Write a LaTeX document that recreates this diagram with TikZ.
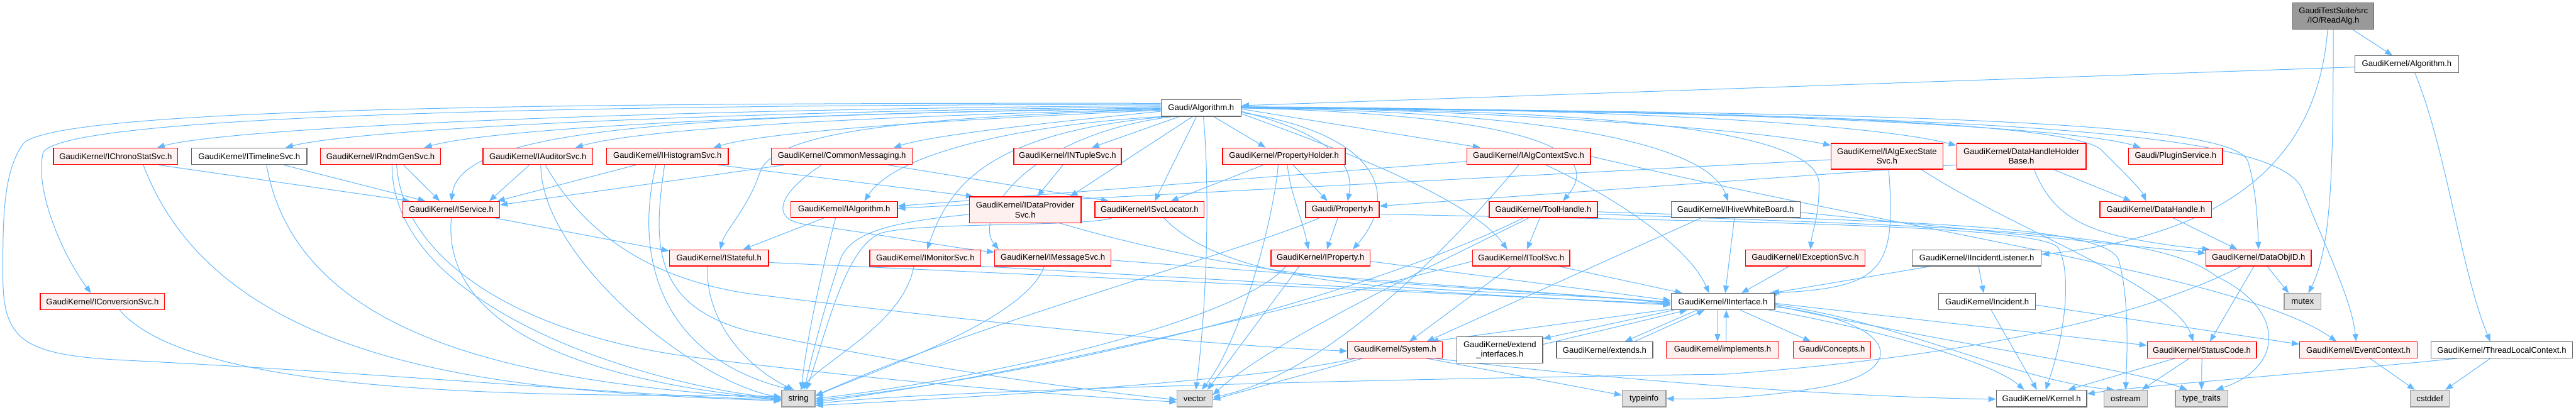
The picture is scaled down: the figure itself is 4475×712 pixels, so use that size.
\documentclass[tikz,border=0pt]{standalone}
\usepackage{fontspec}
\setmainfont{Liberation Sans}
\usetikzlibrary{arrows.meta}
\definecolor{edgec}{HTML}{63B8FF}
\definecolor{rfill}{HTML}{FFF0F0}
\definecolor{gfill}{HTML}{E0E0E0}
\definecolor{gborder}{HTML}{999999}
\definecolor{wborder}{HTML}{666666}
\definecolor{dfill}{HTML}{999999}
\pgfdeclarelayer{bg}
\pgfsetlayers{bg,main}
\newcommand\gnode[7]{\node[#1, minimum width={#5-#3}, minimum height={#6-#4}] (#2) at ({(#3+#5)/2},{-(#4+#6)/2}) {#7};}
\begin{document}
\begin{tikzpicture}[x=1pt,y=1pt,
  base/.style={rectangle, inner sep=0pt, align=center, font=\fontsize{14.3}{17}\selectfont, line width=1.4pt, text=black},
  rbox/.style={base, draw=red, fill=rfill},
  wbox/.style={base, draw=wborder, fill=white},
  gbox/.style={base, draw=gborder, fill=gfill},
  dbox/.style={base, draw=wborder, fill=dfill},
  e/.style={draw=edgec, line width=1.1pt, -{Triangle[length=13pt,width=10pt]}}
]
\useasboundingbox (0,0) rectangle (4475,-712);
% nodes
\gnode{dbox}{readalg}{3983}{5}{4124}{51}{GaudiTestSuite/src\\/IO/ReadAlg.h}
\gnode{wbox}{galg}{4091}{97}{4271}{126}{GaudiKernel/Algorithm.h}
\gnode{wbox}{alg}{2017}{173}{2156}{202}{Gaudi/Algorithm.h}
\gnode{rbox}{chrono}{93}{257}{309}{286}{GaudiKernel/IChronoStatSvc.h}
\gnode{wbox}{timeline}{333}{257}{533}{286}{GaudiKernel/ITimelineSvc.h}
\gnode{rbox}{rndm}{557}{257}{765}{286}{GaudiKernel/IRndmGenSvc.h}
\gnode{rbox}{auditor}{839}{257}{1030}{286}{GaudiKernel/IAuditorSvc.h}
\gnode{rbox}{histo}{1054}{257}{1265}{286}{GaudiKernel/IHistogramSvc.h}
\gnode{rbox}{commonmsg}{1340}{257}{1585}{286}{GaudiKernel/CommonMessaging.h}
\gnode{rbox}{ntuple}{1761}{257}{1948}{286}{GaudiKernel/INTupleSvc.h}
\gnode{rbox}{propholder}{2124}{257}{2337}{286}{GaudiKernel/PropertyHolder.h}
\gnode{rbox}{algctx}{2548}{257}{2763}{286}{GaudiKernel/IAlgContextSvc.h}
\gnode{rbox}{execstate}{3181}{249}{3375}{294}{GaudiKernel/IAlgExecState\\Svc.h}
\gnode{rbox}{dhhb}{3399}{249}{3624}{294}{GaudiKernel/DataHandleHolder\\Base.h}
\gnode{rbox}{plugin}{3698}{257}{3861}{286}{Gaudi/PluginService.h}
\gnode{rbox}{iservice}{700}{350}{868}{378}{GaudiKernel/IService.h}
\gnode{rbox}{ialgorithm}{1374}{350}{1559}{378}{GaudiKernel/IAlgorithm.h}
\gnode{rbox}{idps}{1684}{342}{1878}{387}{GaudiKernel/IDataProvider\\Svc.h}
\gnode{rbox}{isvcloc}{1902}{350}{2092}{378}{GaudiKernel/ISvcLocator.h}
\gnode{rbox}{property}{2268}{350}{2396}{378}{Gaudi/Property.h}
\gnode{rbox}{toolhandle}{2587}{350}{2775}{378}{GaudiKernel/ToolHandle.h}
\gnode{wbox}{hive}{2903}{350}{3127}{378}{GaudiKernel/IHiveWhiteBoard.h}
\gnode{rbox}{datahandle}{3648}{350}{3842}{378}{GaudiKernel/DataHandle.h}
\gnode{rbox}{istateful}{1163}{434}{1335}{462}{GaudiKernel/IStateful.h}
\gnode{rbox}{imonitor}{1511}{434}{1704}{462}{GaudiKernel/IMonitorSvc.h}
\gnode{rbox}{imsgsvc}{1728}{434}{1930}{462}{GaudiKernel/IMessageSvc.h}
\gnode{rbox}{iproperty}{2208}{434}{2380}{462}{GaudiKernel/IProperty.h}
\gnode{rbox}{itoolsvc}{2558}{434}{2727}{462}{GaudiKernel/IToolSvc.h}
\gnode{rbox}{iexception}{3032}{434}{3240}{462}{GaudiKernel/IExceptionSvc.h}
\gnode{wbox}{iincl}{3322}{434}{3546}{462}{GaudiKernel/IIncidentListener.h}
\gnode{rbox}{dataobjid}{3832}{434}{4015}{462}{GaudiKernel/DataObjID.h}
\gnode{rbox}{iconv}{70}{510}{286}{538}{GaudiKernel/IConversionSvc.h}
\gnode{wbox}{iinterface}{2903}{510}{3083}{538}{GaudiKernel/IInterface.h}
\gnode{wbox}{incident}{3368}{510}{3536}{538}{GaudiKernel/Incident.h}
\gnode{gbox}{mutex}{3968}{510}{4032}{538}{mutex}
\gnode{rbox}{system}{2341}{594}{2506}{622}{GaudiKernel/System.h}
\gnode{wbox}{extint}{2531}{585}{2680}{631}{GaudiKernel/extend\\\_interfaces.h}
\gnode{wbox}{extends}{2704}{594}{2871}{622}{GaudiKernel/extends.h}
\gnode{rbox}{implements}{2895}{594}{3090}{622}{GaudiKernel/implements.h}
\gnode{rbox}{concepts}{3115}{594}{3250}{622}{Gaudi/Concepts.h}
\gnode{rbox}{statuscode}{3730}{594}{3920}{622}{GaudiKernel/StatusCode.h}
\gnode{rbox}{eventctx}{3995}{594}{4199}{622}{GaudiKernel/EventContext.h}
\gnode{wbox}{tlc}{4223}{594}{4469}{622}{GaudiKernel/ThreadLocalContext.h}
\gnode{gbox}{string}{1358}{678}{1416}{707}{string}
\gnode{gbox}{vector}{2045}{678}{2106}{707}{vector}
\gnode{gbox}{typeinfo}{2818}{678}{2894}{707}{typeinfo}
\gnode{wbox}{kernel}{3468}{678}{3625}{707}{GaudiKernel/Kernel.h}
\gnode{gbox}{ostream}{3655}{678}{3730}{707}{ostream}
\gnode{gbox}{typetraits}{3779}{678}{3870}{707}{type\_traits}
\gnode{gbox}{cstddef}{4187}{678}{4255}{707}{cstddef}

\begin{pgfonlayer}{bg}
% ReadAlg
\draw[e] ([xshift=34]readalg.south) -- ([xshift=-25]galg.north);
\draw[e] ([xshift=-10]readalg.south) .. controls (4030,-220) and (3940,-400) .. ([yshift=6]iincl.east);
\draw[e] (readalg.south) .. controls (4053,-300) and (4050,-430) .. ([xshift=10]mutex.north);
% GaudiKernel/Algorithm.h
\draw[e] ([yshift=-5]galg.west) -- ([yshift=4]alg.east);
\draw[e] ([xshift=14]galg.south) .. controls (4250,-260) and (4275,-470) .. ([xshift=-20]tlc.north);
% Gaudi/Algorithm.h to the left
\draw[e] ([yshift=8]alg.west) .. controls (900,-178) and (90,-190) .. (40,-250) .. controls (5,-300) and (5,-380) .. (5,-480) .. controls (5,-590) and (40,-615) .. (200,-625) .. controls (700,-650) and (1100,-688) .. ([yshift=-2]string.west);
\draw[e] ([yshift=6]alg.west) .. controls (1000,-182) and (110,-200) .. (75,-265) .. controls (60,-320) and (100,-430) .. ([xshift=-20]iconv.north);
\draw[e] ([yshift=4]alg.west) .. controls (1100,-190) and (400,-222) .. ([xshift=72]chrono.north);
\draw[e] ([yshift=2]alg.west) .. controls (1200,-195) and (620,-225) .. ([xshift=63]timeline.north);
\draw[e] (alg.west) .. controls (1300,-198) and (850,-225) .. ([xshift=76]rndm.north);
\draw[e] ([yshift=-1]alg.west) .. controls (1200,-200) and (800,-220) .. (iservice.north);
\draw[e] ([yshift=-2]alg.west) .. controls (1400,-205) and (1100,-228) .. ([xshift=65]auditor.north);
\draw[e] ([yshift=-4]alg.west) .. controls (1600,-210) and (1330,-230) .. ([xshift=80]histo.north);
\draw[e] ([yshift=-6]alg.west) .. controls (1800,-215) and (1620,-235) .. ([xshift=90]commonmsg.north);
\draw[e] ([yshift=-3]alg.west) .. controls (1500,-205) and (1340,-240) .. (1320,-300) .. controls (1300,-360) and (1260,-400) .. ([xshift=2]istateful.north);
\draw[e] (alg.south west) .. controls (1800,-215) and (1560,-260) .. ([xshift=35]ialgorithm.north);
\draw[e] ([xshift=10]alg.south west) .. controls (1720,-230) and (1650,-320) .. ([xshift=3]imonitor.north);
\draw[e] ([xshift=20]alg.south west) .. controls (1780,-235) and (1690,-380) .. ([xshift=-94]imsgsvc.north);
\draw[e] ([xshift=-38]alg.south) -- ([xshift=42]ntuple.north);
\draw[e] ([xshift=-15]alg.south) -- ([xshift=78]idps.north);
\draw[e] ([xshift=-8]alg.south) -- ([xshift=9]isvcloc.north);
\draw[e] ([xshift=4]alg.south) .. controls (2100,-300) and (2100,-500) .. ([xshift=2]vector.north);
\draw[e] ([xshift=22]alg.south) -- ([xshift=-32]propholder.north);
% Gaudi/Algorithm.h to the right
\draw[e] ([yshift=-6]alg.east) .. controls (2300,-230) and (2355,-280) .. ([xshift=9]property.north);
\draw[e] ([yshift=-8]alg.east) .. controls (2380,-230) and (2440,-330) .. ([xshift=56]iproperty.north);
\draw[e] ([yshift=-10]alg.east) .. controls (2300,-250) and (2550,-340) .. ([xshift=-24]itoolsvc.north);
\draw[e] ([yshift=-2]alg.east) -- ([xshift=-84]algctx.north);
\draw[e] (alg.east) .. controls (2650,-200) and (2790,-260) .. ([xshift=34]toolhandle.north);
\draw[e] (alg.east) .. controls (2750,-195) and (2970,-260) .. ([xshift=-13]hive.north);
\draw[e] (alg.east) .. controls (2900,-190) and (3160,-240) .. (3160,-320) .. controls (3160,-380) and (3148,-400) .. ([xshift=9]iexception.north);
\draw[e] ([yshift=2]alg.east) .. controls (2600,-192) and (3050,-225) .. ([yshift=19]execstate.west);
\draw[e] ([yshift=2]alg.east) .. controls (2800,-188) and (3250,-215) .. ([yshift=19]dhhb.west);
\draw[e] ([yshift=1]alg.east) .. controls (3000,-190) and (3600,-220) .. ([xshift=-61]plugin.north);
\draw[e] ([yshift=1]alg.east) .. controls (3100,-192) and (3600,-215) .. (3650,-260) .. controls (3690,-300) and (3720,-330) .. ([xshift=-17]datahandle.north);
\draw[e] (alg.east) .. controls (3400,-195) and (3880,-215) .. (3905,-280) .. controls (3920,-330) and (3922,-390) .. (dataobjid.north);
\draw[e] (alg.east) .. controls (3500,-198) and (3960,-230) .. (4000,-330) .. controls (4040,-430) and (4085,-520) .. ([xshift=-4]eventctx.north);
% row 2 sources
\draw[e] ([xshift=75]chrono.south) -- ([xshift=-72]iservice.north);
\draw[e] ([xshift=48]chrono.south) .. controls (390,-660) and (940,-681) .. ([yshift=-4]string.west);
\draw[e] ([xshift=60]timeline.south) -- ([xshift=-45]iservice.north);
\draw[e] ([xshift=30]timeline.south) .. controls (523,-627) and (1013,-667) .. ([yshift=-2]string.west);
\draw[e] ([xshift=40]rndm.south) -- ([xshift=-20]iservice.north);
\draw[e] ([xshift=20]rndm.south) .. controls (681,-533) and (1112,-667) .. (string.west);
\draw[e] ([xshift=28]rndm.south) .. controls (700,-450) and (900,-580) .. (1200,-620) .. controls (1600,-670) and (1900,-690) .. ([yshift=-6]vector.west);
\draw[e] ([xshift=-15]auditor.south) -- ([xshift=66]iservice.north);
\draw[e] ([xshift=5]auditor.south) .. controls (939,-445) and (1201,-662) .. ([yshift=2]string.west);
\draw[e] ([xshift=13]auditor.south) .. controls (1000,-380) and (1100,-480) .. (1300,-510) .. controls (1700,-560) and (2100,-600) .. ([yshift=-2]system.west);
\draw[e] ([xshift=-55]histo.south) -- ([xshift=80]iservice.north);
\draw[e] ([xshift=-20]histo.south) .. controls (1100,-450) and (1150,-620) .. ([xshift=-12]string.north);
\draw[e] ([xshift=88]histo.south) -- ([xshift=-90]idps.north);
\draw[e] ([xshift=-5]histo.south) .. controls (1135,-420) and (1130,-530) .. (1300,-575) .. controls (1600,-640) and (1900,-680) .. ([yshift=-2]vector.west);
\draw[e] ([xshift=-100]commonmsg.south) -- ([yshift=8]iservice.east);
\draw[e] ([xshift=-35]commonmsg.south) .. controls (1360,-330) and (1330,-380) .. (1400,-390) .. controls (1550,-410) and (1650,-430) .. ([yshift=10]imsgsvc.west);
\draw[e] ([xshift=80]commonmsg.south) -- ([xshift=-71]isvcloc.north);
\draw[e] ([xshift=-8]ntuple.south) -- ([xshift=21]idps.north);
\draw[e] ([xshift=-36]propholder.south) -- ([xshift=37]isvcloc.north);
\draw[e] ([xshift=16]propholder.south) -- ([xshift=-26]property.north);
\draw[e] ([xshift=6]propholder.south) .. controls (2240,-330) and (2262,-380) .. ([xshift=-21]iproperty.north);
\draw[e] ([xshift=-10]propholder.south) .. controls (2210,-400) and (2150,-600) .. ([xshift=12]vector.north);
\draw[e] ([yshift=-9]algctx.west) -- ([yshift=6]ialgorithm.east);
\draw[e] ([yshift=-6]execstate.west) -- ([yshift=2]ialgorithm.east);
\draw[e] ([xshift=30]algctx.south) .. controls (2780,-330) and (2930,-420) .. ([xshift=-24]iinterface.north);
\draw[e] ([xshift=-17]algctx.south) .. controls (2500,-450) and (2300,-650) .. ([yshift=2]vector.east);
\draw[e] (algctx.east) .. controls (3300,-400) and (3900,-480) .. ([xshift=-38]eventctx.north);
\draw[e] ([xshift=3]execstate.south) .. controls (3295,-470) and (3270,-500) .. ([xshift=-10]iinterface.north east);
\draw[e] ([xshift=60]execstate.south) .. controls (3500,-400) and (3780,-500) .. ([xshift=-15]statuscode.north);
\draw[e] ([xshift=56]dhhb.south) -- ([xshift=-43]datahandle.north);
\draw[e] ([xshift=22]dhhb.south) .. controls (3560,-360) and (3600,-390) .. (3680,-410) .. controls (3750,-425) and (3800,-430) .. ([xshift=-85]dataobjid.north);
\draw[e] ([yshift=-15]dhhb.west) -- ([yshift=6]property.east);
% row 3 sources
\draw[e] ([xshift=75]iservice.south) -- ([yshift=12]istateful.west);
\draw[e] (iservice.south) .. controls (764,-608) and (1128,-673) .. ([yshift=-1]string.west);
\draw[e] ([xshift=-35]ialgorithm.south) -- ([xshift=42]istateful.north);
\draw[e] ([xshift=-15]ialgorithm.south) .. controls (1420,-500) and (1400,-600) .. ([xshift=5]string.north);
\draw[e] ([yshift=-8]idps.west) .. controls (1560,-385) and (1480,-400) .. (1460,-450) .. controls (1430,-540) and (1410,-620) .. ([xshift=10]string.north);
\draw[e] ([xshift=60]idps.south) .. controls (1950,-420) and (2150,-470) .. (2400,-490) .. controls (2600,-505) and (2800,-515) .. ([yshift=-4]iinterface.west);
\draw[e] ([xshift=-65]isvcloc.south) .. controls (1880,-395) and (1600,-385) .. (1530,-405) .. controls (1470,-430) and (1440,-560) .. ([xshift=14]string.north);
\draw[e] ([xshift=25]isvcloc.south) .. controls (2080,-440) and (2200,-480) .. (2400,-497) .. controls (2600,-510) and (2800,-515) .. ([yshift=-2]iinterface.west);
\draw[e] ([xshift=-8]property.south) -- ([xshift=11]iproperty.north);
\draw[e] ([xshift=-40]property.south) .. controls (2150,-440) and (1700,-560) .. ([yshift=5]string.east);
\draw[e] ([yshift=-8]property.east) .. controls (3000,-385) and (3540,-390) .. (3575,-430) .. controls (3595,-460) and (3595,-560) .. ([xshift=7]kernel.north);
\draw[e] ([xshift=-6]toolhandle.south) -- ([xshift=10]itoolsvc.north);
\draw[e] ([xshift=-35]toolhandle.south) .. controls (2400,-500) and (1900,-640) .. ([yshift=-3]string.east);
\draw[e] ([xshift=-25]toolhandle.south) .. controls (2450,-480) and (2200,-600) .. ([yshift=6]vector.east);
\draw[e] ([yshift=-4]toolhandle.east) .. controls (3300,-385) and (3650,-390) .. (3680,-450) .. controls (3700,-520) and (3695,-620) .. (ostream.north);
\draw[e] ([yshift=-8]toolhandle.east) .. controls (3400,-395) and (3750,-400) .. (3850,-480) .. controls (3975,-540) and (3965,-640) .. ([xshift=25]typetraits.north);
\draw[e] ([xshift=-2]hive.south) -- ([xshift=4]iinterface.north);
\draw[e] ([yshift=-5]hive.east) -- ([yshift=8]dataobjid.west);
\draw[e] ([xshift=-60]hive.south) -- ([xshift=55]system.north);
\draw[e] ([xshift=30]datahandle.south) -- ([xshift=-37]dataobjid.north);
% row 4 sources
\draw[e] ([yshift=-8]istateful.east) -- ([yshift=-4]iinterface.west);
\draw[e] ([xshift=-20]istateful.south) .. controls (1225,-560) and (1300,-640) .. ([xshift=-8]string.north);
\draw[e] (imonitor.south east) -- ([yshift=-6]iinterface.west);
\draw[e] ([xshift=-20]imonitor.south) .. controls (1570,-560) and (1440,-620) .. ([xshift=3]string.north);
\draw[e] ([yshift=-4]imsgsvc.east) -- ([yshift=-1]iinterface.west);
\draw[e] ([xshift=-15]imsgsvc.south) .. controls (1780,-560) and (1500,-650) .. ([yshift=4]string.east);
\draw[e] ([yshift=-6]iproperty.east) -- ([yshift=2]iinterface.west);
\draw[e] ([xshift=-60]iproperty.south) .. controls (2150,-560) and (1700,-660) .. ([yshift=0]string.east);
\draw[e] ([xshift=-37]iproperty.south) -- ([xshift=22]vector.north);
\draw[e] ([xshift=65]itoolsvc.south) -- ([xshift=-70]iinterface.north);
\draw[e] ([xshift=-18]itoolsvc.south) -- ([xshift=25]system.north);
\draw[e] ([yshift=-6]itoolsvc.west) .. controls (2300,-520) and (1800,-650) .. ([yshift=-6]string.east);
\draw[e] ([xshift=-28]iexception.south) -- ([xshift=32]iinterface.north);
\draw[e] ([xshift=-80]iincl.south) -- ([xshift=-6]iinterface.north east);
\draw[e] ([xshift=3]iincl.south) -- ([xshift=-6]incident.north);
\draw[e] ([xshift=-8]dataobjid.south) -- ([xshift=14]statuscode.north);
\draw[e] ([xshift=15]dataobjid.south) -- ([xshift=-24]mutex.north);
\draw[e] ([xshift=-30]dataobjid.south) .. controls (3700,-560) and (3400,-620) .. (3000,-650) .. controls (2300,-660) and (1600,-680) .. ([yshift=-9]string.east);
\draw[e] ([xshift=30]iconv.south) .. controls (354,-712) and (1131,-681) .. ([yshift=3]string.west);
% IInterface
\draw[e] ([xshift=-85]iinterface.south) -- ([yshift=-4]extint.north east);
\draw[e] ([yshift=-14]extint.north east) -- ([xshift=-62]iinterface.south);
\draw[e] ([xshift=-45]iinterface.south) -- ([xshift=35]extends.north);
\draw[e] ([xshift=52]extends.north) -- ([xshift=-32]iinterface.south);
\draw[e] ([xshift=-9]iinterface.south) -- ([xshift=-9]implements.north);
\draw[e] ([xshift=6]implements.north) -- ([xshift=6]iinterface.south);
\draw[e] ([xshift=30]iinterface.south) -- ([xshift=-37]concepts.north);
\draw[e] ([xshift=-88,yshift=2]iinterface.south) -- ([xshift=62]system.north);
\draw[e] ([yshift=-3]iinterface.east) -- ([yshift=8]statuscode.west);
\draw[e] ([xshift=80]iinterface.south) .. controls (3200,-560) and (3450,-620) .. ([xshift=-30]kernel.north);
\draw[e] ([yshift=-5]iinterface.east) .. controls (3300,-560) and (3500,-660) .. ([xshift=-20]ostream.north);
\draw[e] ([yshift=-7]iinterface.east) .. controls (3400,-600) and (3700,-640) .. ([xshift=-25]typetraits.north);
\draw[e] ([yshift=-9]iinterface.east) .. controls (3310,-560) and (3320,-650) .. (3150,-675) .. controls (3050,-692) and (2950,-694) .. (typeinfo.east);
% lower rows
\draw[e] ([xshift=7]incident.south) -- ([xshift=-8]kernel.north);
\draw[e] ([yshift=-6]incident.east) -- ([yshift=10]eventctx.west);
\draw[e] ([xshift=-57]system.south) -- ([yshift=-2]vector.east);
\draw[e] ([xshift=55]system.south) -- ([yshift=6]typeinfo.west);
\draw[e] ([xshift=70]system.south) .. controls (2800,-660) and (3200,-690) .. ([yshift=-1]kernel.west);
\draw[e] ([xshift=-70]system.south) .. controls (2200,-660) and (1700,-690) .. ([yshift=-12]string.east);
\draw[e] ([xshift=-47]statuscode.south) -- ([xshift=46]kernel.north);
\draw[e] ([xshift=-22]statuscode.south) -- ([xshift=28]ostream.north);
\draw[e] (statuscode.south) -- (typetraits.north);
\draw[e] ([xshift=20]eventctx.south) -- ([xshift=-26]cstddef.north);
\draw[e] ([xshift=-20]tlc.south) -- ([xshift=27]cstddef.north);
\draw[e] ([xshift=-78]tlc.south) .. controls (4000,-650) and (3700,-672) .. ([yshift=8]kernel.east);
\end{pgfonlayer}
\end{tikzpicture}
\end{document}
